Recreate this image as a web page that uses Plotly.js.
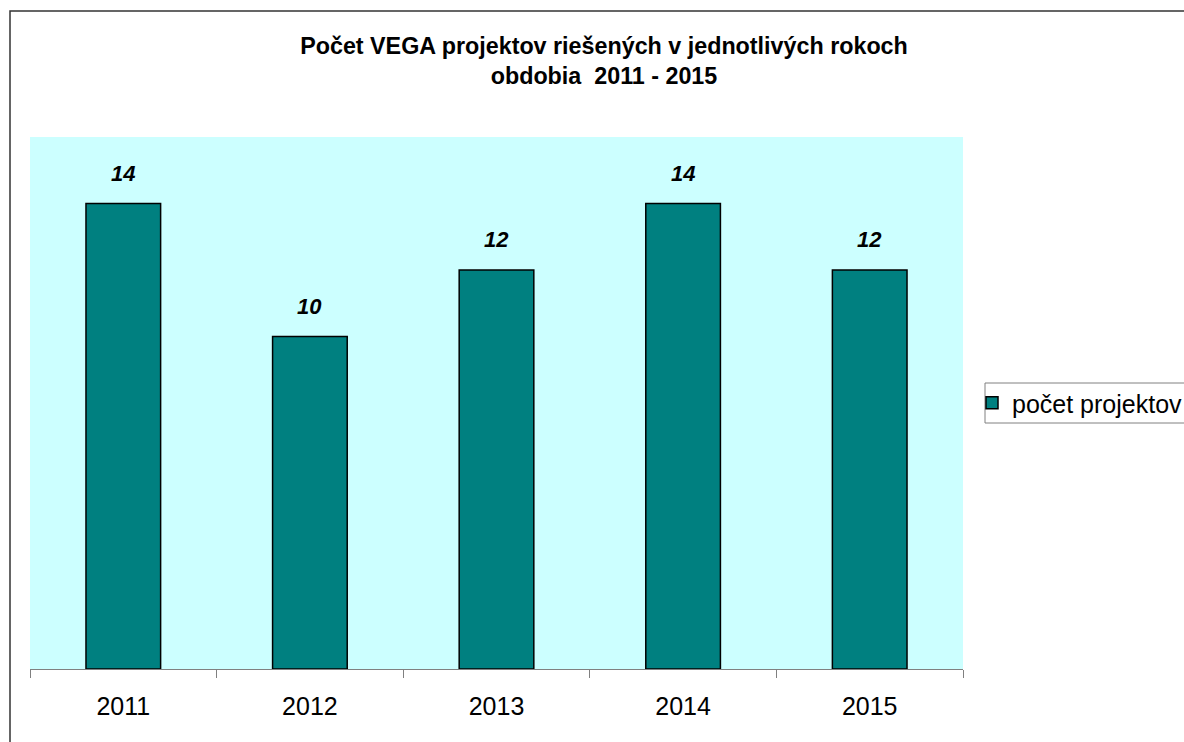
<!DOCTYPE html>
<html>
<head>
<meta charset="utf-8">
<script src="https://cdn.plot.ly/plotly-3.0.1.min.js"></script>
<style>html,body{margin:0;padding:0;background:#fff;}#chart{width:1184px;height:742px;}</style>
</head>
<body>
<div id="chart"></div>
<script>
var categories = ["2011", "2012", "2013", "2014", "2015"];
var projectCounts = [14, 10, 12, 14, 12];
var seriesName = "počet projektov";
var chartTitle = "Počet VEGA projektov riešených v jednotlivých rokoch<br>obdobia  2011 - 2015";

var FONT = "Liberation Sans, Arial, sans-serif";

var trace = {
  type: "bar",
  x: categories,
  y: projectCounts,
  name: seriesName,
  marker: {color: "#008080", line: {color: "#000000", width: 1.5}},
  hoverinfo: "x+y",
  showlegend: true
};

var annotations = categories.map(function (c, i) {
  return {
    x: i, y: projectCounts[i], xref: "x", yref: "y",
    text: "<b><i>" + projectCounts[i] + "</i></b>",
    showarrow: false, yanchor: "bottom", yshift: 16,
    font: {family: FONT, size: 22, color: "#000"}
  };
});

var PW = 933, PH = 532, PL = 30, PT = 137;

var layout = {
  width: 1184, height: 742,
  margin: {l: 30, r: 221, t: 137, b: 73, pad: 0, autoexpand: false},
  paper_bgcolor: "#ffffff",
  plot_bgcolor: "#CCFFFF",
  font: {family: FONT, size: 23, color: "#000"},
  title: {
    text: "<b>" + chartTitle + "</b>",
    xref: "container", x: 604 / 1184, xanchor: "center",
    yref: "container", y: 1 - 54 / 742, yanchor: "top",
    font: {family: FONT, size: 23.3, color: "#000"}
  },
  bargap: 0.6,
  xaxis: {
    type: "category",
    range: [-0.5, categories.length - 0.5],
    showline: true, linecolor: "#808080", linewidth: 1,
    ticks: "outside", tickson: "boundaries", ticklen: 8, tickcolor: "#808080", tickwidth: 1,
    showgrid: false, zeroline: false,
    tickangle: 0,
    tickfont: {family: FONT, size: 25, color: "#000"},
    ticklabelstandoff: 15,
    fixedrange: true
  },
  yaxis: {
    range: [0, 16],
    visible: false, showgrid: false, zeroline: false,
    fixedrange: true
  },
  legend: {
    x: (972 - PL) / PW, xanchor: "left",
    y: 1 - (380 - PT) / PH, yanchor: "top",
    bgcolor: "rgba(0,0,0,0)", borderwidth: 0,
    font: {family: FONT, size: 25, color: "#000"},
    itemwidth: 30
  },
  annotations: annotations,
  shapes: [{
    type: "rect", xref: "paper", yref: "paper",
    x0: (10 - PL) / PW, x1: 1.4,
    y0: -0.3, y1: 1 + (PT - 11) / PH,
    line: {color: "#333333", width: 1.5},
    fillcolor: "rgba(0,0,0,0)", layer: "below"
  }, {
    type: "rect", xref: "paper", yref: "paper",
    x0: (985 - PL) / PW, x1: (1200 - PL) / PW,
    y0: 1 - (423 - PT) / PH, y1: 1 - (383 - PT) / PH,
    line: {color: "#808080", width: 1},
    fillcolor: "#ffffff", layer: "below"
  }]
};

Plotly.newPlot("chart", [trace], layout, {displayModeBar: false, staticPlot: true});
</script>
</body>
</html>
